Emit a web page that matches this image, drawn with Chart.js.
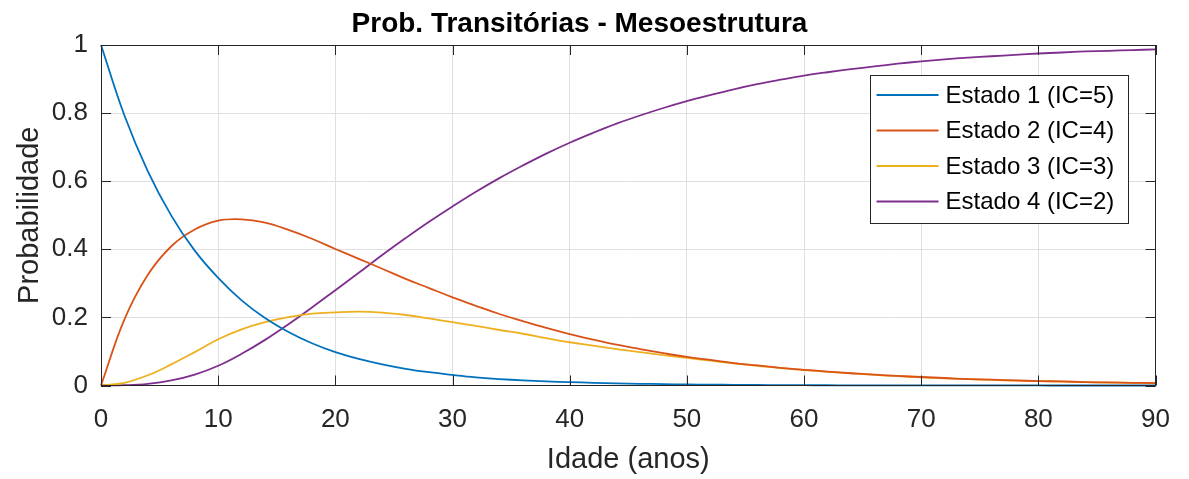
<!DOCTYPE html>
<html>
<head>
<meta charset="utf-8">
<script src="https://cdn.jsdelivr.net/npm/chart.js@4.4.1/dist/chart.umd.min.js"></script>
<style>
  body { margin: 0; background: #fff; }
</style>
</head>
<body>
<canvas id="grafico" width="1189" height="479"></canvas>
<script>
// idade em anos (eixo x)
const anos = [0, 2, 4, 6, 8, 10, 12, 14, 16, 18, 20, 22, 24, 26, 28, 30, 32, 34, 36, 38,
  40, 42, 44, 46, 48, 50, 52, 54, 56, 58, 60, 62, 64, 66, 68, 70, 72, 74, 76, 78,
  80, 82, 84, 86, 88, 90];

// probabilidades
const estado1 = [1, 0.793, 0.629, 0.499, 0.396, 0.316, 0.250, 0.198, 0.157, 0.124,
  0.098, 0.078, 0.062, 0.049, 0.039, 0.031, 0.024, 0.019, 0.015, 0.012,
  0.010, 0.008, 0.006, 0.005, 0.004, 0.003, 0.0024, 0.0019, 0.0015, 0.0012,
  0.0009, 0.0007, 0.0006, 0.0005, 0.0004, 0.0003, 0.0002, 0.0002, 0.0001, 0.0001,
  0.0001, 0, 0, 0, 0, 0];
const estado2 = [0, 0.194, 0.325, 0.409, 0.458, 0.484, 0.488, 0.478, 0.457, 0.431,
  0.401, 0.372, 0.343, 0.313, 0.286, 0.259, 0.234, 0.210, 0.189, 0.169,
  0.151, 0.135, 0.120, 0.107, 0.095, 0.084, 0.075, 0.066, 0.059, 0.052,
  0.046, 0.041, 0.036, 0.032, 0.028, 0.025, 0.022, 0.019, 0.017, 0.015,
  0.013, 0.012, 0.010, 0.009, 0.008, 0.007];
const estado3 = [0, 0.008, 0.030, 0.062, 0.098, 0.136, 0.165, 0.186, 0.201, 0.211,
  0.215, 0.217, 0.214, 0.207, 0.197, 0.186, 0.175, 0.163, 0.152, 0.139,
  0.127, 0.117, 0.107, 0.098, 0.089, 0.081, 0.073, 0.065, 0.058, 0.051,
  0.0455, 0.040, 0.0355, 0.031, 0.0275, 0.024, 0.021, 0.0185, 0.0165, 0.0145,
  0.0128, 0.0113, 0.0099, 0.0087, 0.0077, 0.0068];
const estado4 = [0, 0.001, 0.005, 0.015, 0.032, 0.058, 0.093, 0.134, 0.180, 0.229,
  0.280, 0.331, 0.383, 0.433, 0.481, 0.526, 0.569, 0.609, 0.646, 0.681,
  0.713, 0.742, 0.769, 0.793, 0.815, 0.835, 0.853, 0.870, 0.885, 0.898,
  0.910, 0.920, 0.929, 0.937, 0.945, 0.952, 0.958, 0.963, 0.967, 0.971,
  0.975, 0.978, 0.981, 0.983, 0.985, 0.987];

const rotulos = ['Estado 1 (IC=5)', 'Estado 2 (IC=4)', 'Estado 3 (IC=3)', 'Estado 4 (IC=2)'];
const cores = ['#0072BD', '#D95319', '#EDB120', '#7E2F8E'];

const fonte = "'Liberation Sans', Arial, Helvetica, sans-serif";
const corTexto = '#262626';

function montaPontos(valores) {
  return anos.map((a, i) => ({ x: a, y: valores[i] }));
}

// caixa em volta do grafico com ticks para dentro (estilo matlab)
const caixaEixos = {
  id: 'caixaEixos',
  afterDatasetsDraw(chart) {
    const { ctx, chartArea: a, scales } = chart;
    const tam = 10;
    ctx.save();
    ctx.strokeStyle = corTexto;
    ctx.lineWidth = 1;
    ctx.beginPath();
    scales.x.ticks.forEach(t => {
      const px = Math.round(scales.x.getPixelForValue(t.value)) + 0.5;
      ctx.moveTo(px, a.bottom); ctx.lineTo(px, a.bottom - tam);
      ctx.moveTo(px, a.top); ctx.lineTo(px, a.top + tam);
    });
    scales.y.ticks.forEach(t => {
      const py = Math.round(scales.y.getPixelForValue(t.value)) + 0.5;
      ctx.moveTo(a.left, py); ctx.lineTo(a.left + tam, py);
      ctx.moveTo(a.right, py); ctx.lineTo(a.right - tam, py);
    });
    ctx.stroke();
    ctx.strokeRect(Math.round(a.left) + 0.5, Math.round(a.top) + 0.5,
      Math.round(a.width) - 1, Math.round(a.height) - 1);
    ctx.restore();
  }
};

// legenda dentro da area do grafico, canto superior direito
const legendaCaixa = {
  id: 'legendaCaixa',
  afterDraw(chart) {
    const { ctx, chartArea: a } = chart;
    const larg = 258, alt = 148;
    const x0 = a.right - 28 - larg;
    const y0 = a.top + 30;
    ctx.save();
    ctx.fillStyle = '#fff';
    ctx.fillRect(x0, y0, larg, alt);
    ctx.strokeStyle = corTexto;
    ctx.lineWidth = 1;
    ctx.strokeRect(Math.round(x0) + 0.5, Math.round(y0) + 0.5, larg, alt);
    ctx.font = '24px ' + fonte;
    ctx.textBaseline = 'middle';
    ctx.fillStyle = '#000';
    chart.data.datasets.forEach((ds, i) => {
      const y = y0 + 20 + i * 35.5;
      ctx.strokeStyle = ds.borderColor;
      ctx.lineWidth = 1.8;
      ctx.beginPath();
      ctx.moveTo(x0 + 7, y);
      ctx.lineTo(x0 + 69, y);
      ctx.stroke();
      ctx.fillText(ds.label, x0 + 76, y + 1);
    });
    ctx.restore();
  }
};

const canvas = document.getElementById('grafico');
const grafico = new Chart(canvas, {
  type: 'line',
  data: {
    datasets: [estado1, estado2, estado3, estado4].map((serie, i) => ({
      label: rotulos[i],
      data: montaPontos(serie),
      borderColor: cores[i],
      backgroundColor: cores[i],
      borderWidth: 1.8,
      pointRadius: 0,
      tension: 0.4,
      fill: false,
      clip: 4
    }))
  },
  options: {
    responsive: false,
    animation: false,
    layout: { padding: { left: 0, right: 30, top: 0, bottom: 0 } },
    plugins: {
      legend: { display: false },
      tooltip: { enabled: false },
      title: {
        display: true,
        text: 'Prob. Transitórias - Mesoestrutura',
        color: '#000',
        font: { family: fonte, size: 28, weight: 'bold' },
        padding: { top: 7, bottom: 4.4 }
      }
    },
    scales: {
      x: {
        type: 'linear',
        min: 0,
        max: 90,
        afterFit(scale) { scale.height = 93.5; },
        ticks: {
          stepSize: 10,
          color: corTexto,
          padding: 19,
          maxRotation: 0,
          font: { family: fonte, size: 26 }
        },
        grid: { color: '#dfdfdf', drawTicks: false },
        border: { display: false },
        title: {
          display: true,
          text: 'Idade (anos)',
          color: corTexto,
          font: { family: fonte, size: 29 },
          padding: { top: 0, bottom: 2 }
        }
      },
      y: {
        min: 0,
        max: 1,
        afterFit(scale) { scale.width = 101; },
        ticks: {
          stepSize: 0.2,
          color: corTexto,
          padding: 13,
          font: { family: fonte, size: 26 },
          callback: v => String(Number(v.toFixed(1)))
        },
        grid: { color: '#dfdfdf', drawTicks: false },
        border: { display: false },
        title: {
          display: true,
          text: 'Probabilidade',
          color: corTexto,
          font: { family: fonte, size: 29 },
          padding: { top: 12.6, bottom: 0 }
        }
      }
    }
  },
  plugins: [caixaEixos, legendaCaixa]
});
</script>
</body>
</html>
